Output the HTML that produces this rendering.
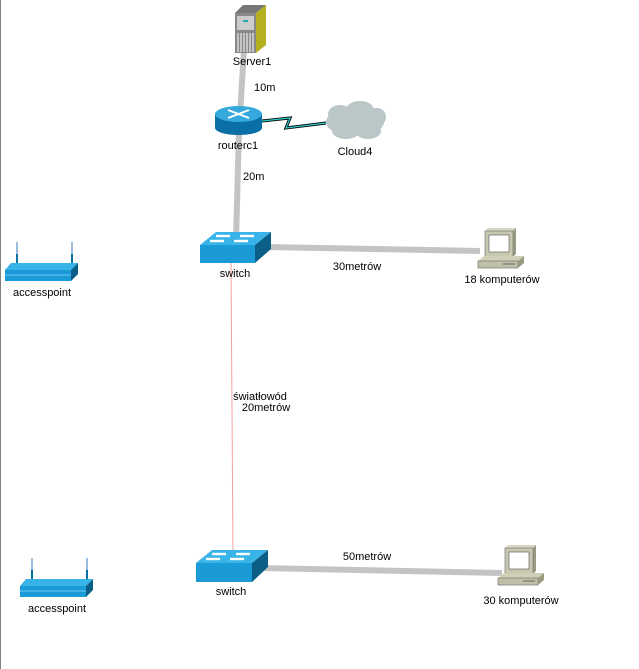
<!DOCTYPE html>
<html><head><meta charset="utf-8"><style>
html,body{margin:0;padding:0;background:#fff;width:639px;height:669px;overflow:hidden}
svg{display:block}
text{font-family:"Liberation Sans",sans-serif;font-size:11px;fill:#000}
</style></head><body>
<svg width="639" height="669" viewBox="0 0 639 669">
<line x1="0.5" y1="0" x2="0.5" y2="669" stroke="#808080" stroke-width="1"/>
<line x1="244" y1="50" x2="240" y2="115" stroke="#c4c4c4" stroke-width="6"/>
<line x1="239" y1="130" x2="236" y2="240" stroke="#c4c4c4" stroke-width="6"/>
<line x1="265" y1="247" x2="480" y2="251" stroke="#c4c4c4" stroke-width="6"/>
<line x1="262" y1="568" x2="502" y2="573" stroke="#c4c4c4" stroke-width="6"/>
<line x1="231" y1="262" x2="233" y2="556" stroke="#f4a0a0" stroke-width="1"/>
<polyline points="262,121 290,118 286,128 326,123" fill="none" stroke="#000" stroke-width="3"/>
<polyline points="262,121 290,118 286,128 326,123" fill="none" stroke="#3cc" stroke-width="1.2"/>
<polygon points="235,13 243,5 266,5 256,13" fill="#777"/>
<polygon points="256,13 266,5 266,45 256,53" fill="#b5b020"/>
<rect x="235" y="13" width="21" height="40" fill="#888"/>
<rect x="237" y="16" width="17" height="14" fill="#ccc"/>
<rect x="243" y="20" width="5" height="2" fill="#2aa"/>
<g stroke="#fff" stroke-width="1">
<line x1="238" y1="33" x2="238" y2="52"/><line x1="241" y1="33" x2="241" y2="52"/><line x1="244" y1="33" x2="244" y2="52"/><line x1="247" y1="33" x2="247" y2="52"/><line x1="250" y1="33" x2="250" y2="52"/><line x1="253" y1="33" x2="253" y2="52"/></g>
<text x="252" y="65" text-anchor="middle">Server1</text>
<text x="254" y="91">10m</text>
<rect x="215" y="114" width="47" height="14" fill="#0a6fa5"/>
<ellipse cx="238.5" cy="128" rx="23.5" ry="7" fill="#0a6fa5"/>
<ellipse cx="238.5" cy="114" rx="23.5" ry="8" fill="#35a9dc"/>
<g stroke="#fff" stroke-width="2"><line x1="228" y1="110" x2="249" y2="118"/><line x1="228" y1="118" x2="249" y2="110"/></g>
<text x="238" y="149" text-anchor="middle">routerc1</text>
<g fill="#bac6c8">
<ellipse cx="355" cy="122" rx="29" ry="14"/><ellipse cx="340" cy="114" rx="12" ry="9"/><ellipse cx="360" cy="110" rx="14" ry="9"/><ellipse cx="377" cy="117" rx="9" ry="9"/><ellipse cx="346" cy="131" rx="14" ry="8"/><ellipse cx="368" cy="131" rx="13" ry="8"/></g>
<text x="355" y="155" text-anchor="middle">Cloud4</text>
<text x="243" y="180">20m</text>
<g transform="translate(200,232)">
<polygon points="0,13 16,0 71,0 55,13" fill="#39b4e8"/>
<rect x="0" y="13" width="55" height="18" fill="#1a9ad6"/>
<polygon points="55,13 71,0 71,17 55,31" fill="#0b5f86"/>
<g stroke="#fff" stroke-width="2.4"><line x1="16" y1="4" x2="30" y2="4"/><line x1="40" y1="4" x2="54" y2="4"/><line x1="10" y1="9" x2="24" y2="9"/><line x1="34" y1="9" x2="48" y2="9"/></g>
</g>
<text x="235" y="277" text-anchor="middle">switch</text>
<text x="357" y="270" text-anchor="middle">30metrów</text>
<g transform="translate(196,550)">
<polygon points="0,13 16,0 72,0 56,13" fill="#39b4e8"/>
<rect x="0" y="13" width="56" height="19" fill="#1a9ad6"/>
<polygon points="56,13 72,0 72,17 56,32" fill="#0b5f86"/>
<g stroke="#fff" stroke-width="2.4"><line x1="16" y1="4" x2="30" y2="4"/><line x1="40" y1="4" x2="54" y2="4"/><line x1="10" y1="9" x2="24" y2="9"/><line x1="34" y1="9" x2="48" y2="9"/></g>
</g>
<text x="231" y="595" text-anchor="middle">switch</text>
<text x="367" y="560" text-anchor="middle">50metrów</text>
<text x="260" y="400" text-anchor="middle">światłowód</text>
<text x="266" y="411" text-anchor="middle">20metrów</text>
<g transform="translate(478,228)">
<polygon points="7,3 10,0 38,0 35,3" fill="#d8d8c0"/><polygon points="35,3 38,0 38,26 35,29" fill="#9a9a80"/>
<rect x="7" y="3" width="28" height="26" fill="#c8c8b0" stroke="#777" stroke-width="0.7"/>
<rect x="11" y="7" width="20" height="17" fill="#fff" stroke="#666" stroke-width="0.7"/>
<polygon points="0,33 6,28 46,28 40,33" fill="#d0d0b8"/>
<rect x="0" y="33" width="40" height="7" fill="#c0c0a8" stroke="#777" stroke-width="0.7"/>
<polygon points="40,33 46,28 46,35 40,40" fill="#9a9a80"/>
<line x1="25" y1="36" x2="37" y2="36" stroke="#666"/>
</g>
<text x="502" y="283" text-anchor="middle">18 komputerów</text>
<g transform="translate(498,545)">
<polygon points="7,3 10,0 38,0 35,3" fill="#d8d8c0"/><polygon points="35,3 38,0 38,26 35,29" fill="#9a9a80"/>
<rect x="7" y="3" width="28" height="26" fill="#c8c8b0" stroke="#777" stroke-width="0.7"/>
<rect x="11" y="7" width="20" height="17" fill="#fff" stroke="#666" stroke-width="0.7"/>
<polygon points="0,33 6,28 46,28 40,33" fill="#d0d0b8"/>
<rect x="0" y="33" width="40" height="7" fill="#c0c0a8" stroke="#777" stroke-width="0.7"/>
<polygon points="40,33 46,28 46,35 40,40" fill="#9a9a80"/>
<line x1="25" y1="36" x2="37" y2="36" stroke="#666"/>
</g>
<text x="521" y="604" text-anchor="middle">30 komputerów</text>
<g transform="translate(5,242)">
<line x1="12" y1="0" x2="12" y2="22" stroke="#9bd" stroke-width="2"/><line x1="67" y1="0" x2="67" y2="22" stroke="#9bd" stroke-width="2"/>
<line x1="12" y1="12" x2="12" y2="22" stroke="#0a6fa5" stroke-width="2"/><line x1="67" y1="12" x2="67" y2="22" stroke="#0a6fa5" stroke-width="2"/>
<polygon points="0,28 6,21 73,21 66,28" fill="#39b4e8"/>
<rect x="0" y="28" width="66" height="11" fill="#1a9ad6"/>
<line x1="0" y1="33" x2="66" y2="33" stroke="#6cc8f0"/>
<polygon points="66,28 73,21 73,32 66,39" fill="#0b5f86"/>
</g>
<text x="42" y="296" text-anchor="middle">accesspoint</text>
<g transform="translate(20,558)">
<line x1="12" y1="0" x2="12" y2="22" stroke="#9bd" stroke-width="2"/><line x1="67" y1="0" x2="67" y2="22" stroke="#9bd" stroke-width="2"/>
<line x1="12" y1="12" x2="12" y2="22" stroke="#0a6fa5" stroke-width="2"/><line x1="67" y1="12" x2="67" y2="22" stroke="#0a6fa5" stroke-width="2"/>
<polygon points="0,28 6,21 73,21 66,28" fill="#39b4e8"/>
<rect x="0" y="28" width="66" height="11" fill="#1a9ad6"/>
<line x1="0" y1="33" x2="66" y2="33" stroke="#6cc8f0"/>
<polygon points="66,28 73,21 73,32 66,39" fill="#0b5f86"/>
</g>
<text x="57" y="612" text-anchor="middle">accesspoint</text>
</svg>
</body></html>
